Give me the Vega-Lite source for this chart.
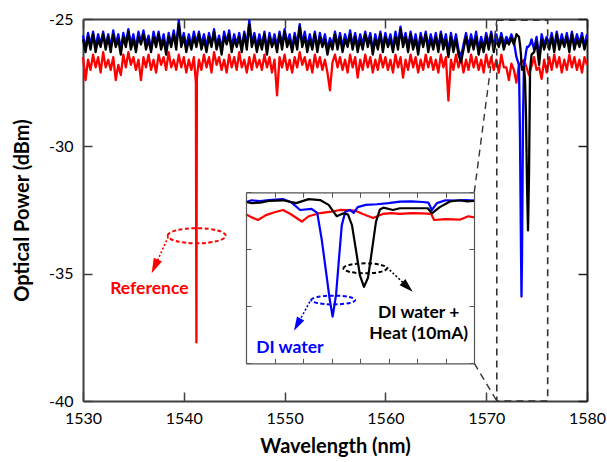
{
"$schema":"https://vega.github.io/schema/vega-lite/v6.json",
"width":504,"height":382,
"autosize":{"type":"none"},
"padding":{"left":83,"top":19,"right":20,"bottom":61},
"background":"white",
"config":{"view":{"stroke":null},"font":"Lato"},
"datasets":{
"main":[
{"w":1530,"r":-26.5,"b":-25.65,"k":-25.8},
{"w":1530.25,"r":-27.4,"b":-26.15,"k":-26.3},
{"w":1530.5,"r":-26.6,"b":-25.55,"k":-25.7},
{"w":1530.75,"r":-27.0,"b":-26.0,"k":-26.2},
{"w":1531,"r":-26.4,"b":-25.5,"k":-25.6},
{"w":1531.25,"r":-26.9,"b":-26.1,"k":-26.3},
{"w":1531.5,"r":-26.5,"b":-25.6,"k":-25.8},
{"w":1531.75,"r":-27.1,"b":-26.0,"k":-26.1},
{"w":1532,"r":-26.3,"b":-25.5,"k":-25.6},
{"w":1532.25,"r":-26.9,"b":-26.05,"k":-26.2},
{"w":1532.5,"r":-26.6,"b":-25.6,"k":-25.7},
{"w":1532.75,"r":-27.0,"b":-26.1,"k":-26.3},
{"w":1533,"r":-26.5,"b":-25.45,"k":-25.6},
{"w":1533.25,"r":-27.4,"b":-26.0,"k":-26.1},
{"w":1533.5,"r":-26.8,"b":-25.6,"k":-25.8},
{"w":1533.75,"r":-27.2,"b":-26.2,"k":-26.4},
{"w":1534,"r":-26.4,"b":-25.55,"k":-25.7},
{"w":1534.25,"r":-26.9,"b":-25.95,"k":-26.1},
{"w":1534.5,"r":-26.3,"b":-25.4,"k":-25.5},
{"w":1534.75,"r":-26.8,"b":-26.0,"k":-26.2},
{"w":1535,"r":-26.5,"b":-25.6,"k":-25.8},
{"w":1535.25,"r":-27.0,"b":-26.15,"k":-26.3},
{"w":1535.5,"r":-26.6,"b":-25.5,"k":-25.7},
{"w":1535.75,"r":-27.4,"b":-25.9,"k":-26.0},
{"w":1536,"r":-26.5,"b":-25.45,"k":-25.6},
{"w":1536.25,"r":-26.9,"b":-26.0,"k":-26.2},
{"w":1536.5,"r":-26.4,"b":-25.65,"k":-25.8},
{"w":1536.75,"r":-27.0,"b":-26.2,"k":-26.3},
{"w":1537,"r":-26.6,"b":-25.5,"k":-25.7},
{"w":1537.25,"r":-27.1,"b":-25.95,"k":-26.1},
{"w":1537.5,"r":-26.4,"b":-25.5,"k":-25.6},
{"w":1537.75,"r":-26.8,"b":-26.05,"k":-26.2},
{"w":1538,"r":-26.5,"b":-25.6,"k":-25.8},
{"w":1538.25,"r":-27.0,"b":-26.2,"k":-26.4},
{"w":1538.5,"r":-26.3,"b":-25.55,"k":-25.7},
{"w":1538.75,"r":-26.9,"b":-26.0,"k":-26.1},
{"w":1539,"r":-26.6,"b":-25.45,"k":-25.6},
{"w":1539.25,"r":-27.0,"b":-26.05,"k":-26.2},
{"w":1539.5,"r":-26.4,"b":-25.05,"k":-25.2},
{"w":1539.75,"r":-26.9,"b":-25.95,"k":-26.1},
{"w":1540,"r":-26.5,"b":-25.55,"k":-25.7},
{"w":1540.25,"r":-27.1,"b":-26.1,"k":-26.3},
{"w":1540.5,"r":-26.6,"b":-25.6,"k":-25.8},
{"w":1540.75,"r":-27.0,"b":-26.05,"k":-26.2},
{"w":1541,"r":-26.5,"b":-25.5,"k":-25.7},
{"w":1541.2,"r":-27.5},
{"w":1541.25,"r":-37.7,"b":-25.95,"k":-26.1},
{"w":1541.3,"r":-27.3},
{"w":1541.5,"r":-26.6,"b":-25.5,"k":-25.6},
{"w":1541.75,"r":-27.0,"b":-26.0,"k":-26.2},
{"w":1542,"r":-26.4,"b":-25.6,"k":-25.8},
{"w":1542.25,"r":-26.9,"b":-26.1,"k":-26.3},
{"w":1542.5,"r":-26.5,"b":-25.55,"k":-25.7},
{"w":1542.75,"r":-27.1,"b":-26.0,"k":-26.1},
{"w":1543,"r":-26.3,"b":-25.4,"k":-25.5},
{"w":1543.25,"r":-26.8,"b":-26.05,"k":-26.2},
{"w":1543.5,"r":-26.5,"b":-25.65,"k":-25.8},
{"w":1543.75,"r":-27.0,"b":-26.2,"k":-26.4},
{"w":1544,"r":-26.6,"b":-25.5,"k":-25.7},
{"w":1544.25,"r":-27.1,"b":-25.9,"k":-26.0},
{"w":1544.5,"r":-26.4,"b":-25.45,"k":-25.6},
{"w":1544.75,"r":-26.9,"b":-26.1,"k":-26.3},
{"w":1545,"r":-26.5,"b":-25.6,"k":-25.8},
{"w":1545.25,"r":-27.0,"b":-26.0,"k":-26.1},
{"w":1545.5,"r":-26.3,"b":-25.55,"k":-25.7},
{"w":1545.75,"r":-26.9,"b":-26.15,"k":-26.3},
{"w":1546,"r":-26.6,"b":-25.5,"k":-25.6},
{"w":1546.25,"r":-27.1,"b":-26.0,"k":-26.2},
{"w":1546.5,"r":-26.5,"b":-25.05,"k":-25.2},
{"w":1546.75,"r":-27.0,"b":-25.95,"k":-26.1},
{"w":1547,"r":-26.4,"b":-25.55,"k":-25.7},
{"w":1547.25,"r":-26.9,"b":-26.1,"k":-26.3},
{"w":1547.5,"r":-26.6,"b":-25.6,"k":-25.8},
{"w":1547.75,"r":-27.0,"b":-26.05,"k":-26.2},
{"w":1548,"r":-26.4,"b":-25.5,"k":-25.6},
{"w":1548.25,"r":-26.9,"b":-26.2,"k":-26.4},
{"w":1548.5,"r":-26.5,"b":-25.55,"k":-25.7},
{"w":1548.75,"r":-27.1,"b":-26.0,"k":-26.1},
{"w":1549,"r":-26.6,"b":-25.6,"k":-25.8},
{"w":1549.25,"r":-28.0,"b":-26.1,"k":-26.3},
{"w":1549.5,"r":-26.5,"b":-25.5,"k":-25.6},
{"w":1549.75,"r":-26.9,"b":-26.0,"k":-26.2},
{"w":1550,"r":-26.4,"b":-25.4,"k":-25.5},
{"w":1550.25,"r":-27.0,"b":-25.95,"k":-26.1},
{"w":1550.5,"r":-26.6,"b":-25.6,"k":-25.8},
{"w":1550.75,"r":-27.1,"b":-26.15,"k":-26.3},
{"w":1551,"r":-26.5,"b":-25.55,"k":-25.7},
{"w":1551.25,"r":-26.9,"b":-26.0,"k":-26.2},
{"w":1551.5,"r":-26.3,"b":-25.2,"k":-25.3},
{"w":1551.75,"r":-26.8,"b":-25.95,"k":-26.1},
{"w":1552,"r":-26.5,"b":-25.5,"k":-25.7},
{"w":1552.25,"r":-27.0,"b":-26.1,"k":-26.3},
{"w":1552.5,"r":-26.6,"b":-25.6,"k":-25.8},
{"w":1552.75,"r":-27.1,"b":-26.05,"k":-26.2},
{"w":1553,"r":-26.4,"b":-25.5,"k":-25.6},
{"w":1553.25,"r":-26.9,"b":-26.15,"k":-26.3},
{"w":1553.5,"r":-26.5,"b":-25.55,"k":-25.7},
{"w":1553.75,"r":-27.0,"b":-26.0,"k":-26.1},
{"w":1554,"r":-26.6,"b":-25.6,"k":-25.8},
{"w":1554.25,"r":-27.1,"b":-26.2,"k":-26.4},
{"w":1554.5,"r":-27.8,"b":-25.75,"k":-25.9},
{"w":1554.75,"r":-26.7,"b":-26.0,"k":-26.2},
{"w":1555,"r":-26.4,"b":-25.5,"k":-25.6},
{"w":1555.25,"r":-26.9,"b":-26.05,"k":-26.2},
{"w":1555.5,"r":-26.5,"b":-25.55,"k":-25.7},
{"w":1555.75,"r":-27.0,"b":-26.1,"k":-26.3},
{"w":1556,"r":-26.6,"b":-25.6,"k":-25.8},
{"w":1556.25,"r":-27.1,"b":-26.0,"k":-26.1},
{"w":1556.5,"r":-26.4,"b":-25.45,"k":-25.6},
{"w":1556.75,"r":-26.9,"b":-26.05,"k":-26.2},
{"w":1557,"r":-26.5,"b":-25.55,"k":-25.7},
{"w":1557.25,"r":-27.3,"b":-26.1,"k":-26.3},
{"w":1557.5,"r":-26.6,"b":-25.6,"k":-25.8},
{"w":1557.75,"r":-27.0,"b":-26.0,"k":-26.2},
{"w":1558,"r":-26.4,"b":-25.5,"k":-25.6},
{"w":1558.25,"r":-26.9,"b":-25.95,"k":-26.1},
{"w":1558.5,"r":-26.5,"b":-25.55,"k":-25.7},
{"w":1558.75,"r":-27.1,"b":-26.2,"k":-26.4},
{"w":1559,"r":-26.6,"b":-25.6,"k":-25.8},
{"w":1559.25,"r":-27.0,"b":-26.05,"k":-26.2},
{"w":1559.5,"r":-26.4,"b":-25.5,"k":-25.6},
{"w":1559.75,"r":-26.9,"b":-26.1,"k":-26.3},
{"w":1560,"r":-26.5,"b":-25.55,"k":-25.7},
{"w":1560.25,"r":-27.0,"b":-26.0,"k":-26.1},
{"w":1560.5,"r":-26.6,"b":-25.6,"k":-25.8},
{"w":1560.75,"r":-27.1,"b":-26.15,"k":-26.3},
{"w":1561,"r":-26.4,"b":-25.5,"k":-25.7},
{"w":1561.25,"r":-26.9,"b":-26.0,"k":-26.2},
{"w":1561.5,"r":-26.5,"b":-25.3,"k":-25.4},
{"w":1561.75,"r":-27.3,"b":-25.95,"k":-26.1},
{"w":1562,"r":-26.6,"b":-25.55,"k":-25.7},
{"w":1562.25,"r":-27.0,"b":-26.1,"k":-26.3},
{"w":1562.5,"r":-26.4,"b":-25.5,"k":-25.6},
{"w":1562.75,"r":-26.9,"b":-26.05,"k":-26.2},
{"w":1563,"r":-26.5,"b":-25.6,"k":-25.8},
{"w":1563.25,"r":-27.1,"b":-26.2,"k":-26.4},
{"w":1563.5,"r":-26.6,"b":-25.55,"k":-25.7},
{"w":1563.75,"r":-27.0,"b":-26.0,"k":-26.1},
{"w":1564,"r":-26.4,"b":-25.5,"k":-25.6},
{"w":1564.25,"r":-26.9,"b":-26.1,"k":-26.3},
{"w":1564.5,"r":-26.5,"b":-25.6,"k":-25.8},
{"w":1564.75,"r":-27.0,"b":-26.05,"k":-26.2},
{"w":1565,"r":-26.6,"b":-25.55,"k":-25.7},
{"w":1565.25,"r":-27.1,"b":-26.15,"k":-26.3},
{"w":1565.5,"r":-26.4,"b":-25.5,"k":-25.6},
{"w":1565.75,"r":-26.9,"b":-26.0,"k":-26.2},
{"w":1566,"r":-26.5,"b":-25.6,"k":-25.8},
{"w":1566.25,"r":-28.2,"b":-26.3,"k":-26.5},
{"w":1566.5,"r":-26.6,"b":-25.55,"k":-25.7},
{"w":1566.75,"r":-27.0,"b":-26.1,"k":-26.3},
{"w":1567,"r":-26.4,"b":-25.6,"k":-25.8},
{"w":1567.25,"r":-26.9,"b":-26.2,"k":-26.4},
{"w":1567.5,"r":-26.5,"b":-26.5,"k":-26.7},
{"w":1567.75,"r":-27.1,"b":-26.0,"k":-26.2},
{"w":1568,"r":-26.6,"b":-25.55,"k":-25.7},
{"w":1568.25,"r":-27.0,"b":-26.1,"k":-26.3},
{"w":1568.5,"r":-26.4,"b":-25.6,"k":-25.8},
{"w":1568.75,"r":-26.9,"b":-26.05,"k":-26.2},
{"w":1569,"r":-26.5,"b":-25.5,"k":-25.7},
{"w":1569.25,"r":-27.0,"b":-26.2,"k":-26.4},
{"w":1569.5,"r":-26.6,"b":-25.7,"k":-25.9},
{"w":1569.75,"r":-27.1,"b":-26.1,"k":-26.3},
{"w":1570,"r":-26.4,"b":-25.55,"k":-25.7},
{"w":1570.25,"r":-26.9,"b":-26.0,"k":-26.2},
{"w":1570.5,"r":-26.5,"b":-25.5,"k":-25.6},
{"w":1570.75,"r":-27.0,"b":-26.1,"k":-26.3},
{"w":1571,"r":-26.6,"b":-25.6,"k":-25.8},
{"w":1571.25,"r":-27.1,"b":-26.0,"k":-26.1},
{"w":1571.5,"r":-26.4,"b":-25.55,"k":-25.7},
{"w":1571.75,"r":-26.9,"b":-26.0,"k":-26.2},
{"w":1572,"r":-26.9,"b":-25.7,"k":-25.85},
{"w":1572.25,"r":-27.4,"b":-25.9,"k":-26.0},
{"w":1572.5,"r":-26.75,"b":-25.6,"k":-25.75},
{"w":1572.75,"r":-27.0,"b":-25.9,"k":-26.0},
{"w":1573,"r":-27.5,"b":-26.5,"k":-25.6},
{"w":1573.25,"r":-26.8,"b":-26.8,"k":-25.7},
{"w":1573.35,"b":-29.5,"k":-26.0},
{"w":1573.45,"b":-34.0,"k":-26.4},
{"w":1573.5,"r":-26.7,"b":-35.9,"k":-26.8},
{"w":1573.55,"b":-34.5,"k":-27.0},
{"w":1573.65,"b":-29.0,"k":-26.9},
{"w":1573.75,"r":-26.6,"b":-26.7,"k":-26.9},
{"w":1573.85,"b":-26.6,"k":-27.4},
{"w":1573.95,"b":-26.3,"k":-28.8},
{"w":1574.05,"b":-26.1,"k":-31.5},
{"w":1574.15,"b":-26.1,"k":-33.3},
{"w":1574.25,"r":-27.2,"b":-26.05,"k":-31.0},
{"w":1574.35,"b":-26.0,"k":-27.0},
{"w":1574.5,"r":-26.85,"b":-25.8,"k":-26.4},
{"w":1574.75,"r":-26.5,"b":-26.2,"k":-26.3},
{"w":1575,"r":-27.0,"b":-25.7,"k":-25.9},
{"w":1575.25,"r":-26.9,"b":-26.5,"k":-26.8},
{"w":1575.5,"r":-27.35,"b":-25.6,"k":-25.8},
{"w":1575.75,"r":-26.6,"b":-26.0,"k":-26.2},
{"w":1576,"r":-27.1,"b":-25.7,"k":-25.8},
{"w":1576.25,"r":-26.5,"b":-26.0,"k":-26.2},
{"w":1576.5,"r":-27.0,"b":-25.55,"k":-25.7},
{"w":1576.75,"r":-26.4,"b":-26.1,"k":-26.3},
{"w":1577,"r":-26.9,"b":-25.5,"k":-25.6},
{"w":1577.25,"r":-26.5,"b":-26.05,"k":-26.2},
{"w":1577.5,"r":-27.1,"b":-25.6,"k":-25.8},
{"w":1577.75,"r":-26.6,"b":-26.0,"k":-26.1},
{"w":1578,"r":-27.0,"b":-25.55,"k":-25.7},
{"w":1578.25,"r":-26.4,"b":-26.1,"k":-26.3},
{"w":1578.5,"r":-26.9,"b":-25.5,"k":-25.6},
{"w":1578.75,"r":-26.5,"b":-26.0,"k":-26.2},
{"w":1579,"r":-27.0,"b":-25.6,"k":-25.8},
{"w":1579.25,"r":-26.6,"b":-25.95,"k":-26.1},
{"w":1579.5,"r":-27.1,"b":-25.55,"k":-25.7},
{"w":1579.75,"r":-26.5,"b":-26.05,"k":-26.2},
{"w":1580,"r":-26.8,"b":-25.6,"k":-25.8}
],
"inset":[
{"s":"r","w":1572.0,"p":-26.93},{"s":"r","w":1572.1,"p":-27.2},{"s":"r","w":1572.21,"p":-27.43},{"s":"r","w":1572.35,"p":-27.0},{"s":"r","w":1572.5,"p":-26.75},{"s":"r","w":1572.65,"p":-26.55},{"s":"r","w":1572.78,"p":-26.9},{"s":"r","w":1572.9,"p":-27.3},{"s":"r","w":1572.98,"p":-27.58},{"s":"r","w":1573.1,"p":-27.1},{"s":"r","w":1573.3,"p":-26.82},{"s":"r","w":1573.5,"p":-26.7},{"s":"r","w":1573.65,"p":-26.55},{"s":"r","w":1573.91,"p":-26.6},{"s":"r","w":1574.05,"p":-26.9},{"s":"r","w":1574.23,"p":-27.25},{"s":"r","w":1574.4,"p":-26.9},{"s":"r","w":1574.55,"p":-26.82},{"s":"r","w":1574.7,"p":-26.9},{"s":"r","w":1574.9,"p":-26.82},{"s":"r","w":1575.1,"p":-26.85},{"s":"r","w":1575.25,"p":-26.9},{"s":"r","w":1575.3,"p":-27.43},{"s":"r","w":1575.5,"p":-27.35},{"s":"r","w":1575.75,"p":-27.4},{"s":"r","w":1575.9,"p":-27.1},{"s":"r","w":1576.0,"p":-27.2},
{"s":"b","w":1572.0,"p":-25.85},{"s":"b","w":1572.1,"p":-25.7},{"s":"b","w":1572.25,"p":-25.78},{"s":"b","w":1572.4,"p":-25.68},{"s":"b","w":1572.65,"p":-25.6},{"s":"b","w":1572.8,"p":-25.9},{"s":"b","w":1572.95,"p":-26.55},{"s":"b","w":1573.15,"p":-26.45},{"s":"b","w":1573.25,"p":-26.8},{"s":"b","w":1573.33,"p":-29.2},{"s":"b","w":1573.4,"p":-31.8},{"s":"b","w":1573.47,"p":-34.45},{"s":"b","w":1573.52,"p":-35.9},{"s":"b","w":1573.58,"p":-34.0},{"s":"b","w":1573.63,"p":-30.9},{"s":"b","w":1573.68,"p":-27.9},{"s":"b","w":1573.74,"p":-26.73},{"s":"b","w":1573.82,"p":-26.55},{"s":"b","w":1573.89,"p":-26.8},{"s":"b","w":1573.96,"p":-26.3},{"s":"b","w":1574.1,"p":-26.1},{"s":"b","w":1574.3,"p":-26.05},{"s":"b","w":1574.5,"p":-25.95},{"s":"b","w":1574.7,"p":-25.82},{"s":"b","w":1574.9,"p":-25.8},{"s":"b","w":1575.1,"p":-25.85},{"s":"b","w":1575.2,"p":-25.9},{"s":"b","w":1575.26,"p":-26.55},{"s":"b","w":1575.35,"p":-25.95},{"s":"b","w":1575.5,"p":-25.7},{"s":"b","w":1575.7,"p":-25.72},{"s":"b","w":1575.85,"p":-25.68},{"s":"b","w":1576.0,"p":-25.72},
{"s":"k","w":1572.0,"p":-25.85},{"s":"k","w":1572.1,"p":-25.95},{"s":"k","w":1572.25,"p":-25.9},{"s":"k","w":1572.4,"p":-25.75},{"s":"k","w":1572.65,"p":-25.7},{"s":"k","w":1572.88,"p":-25.95},{"s":"k","w":1573.1,"p":-25.6},{"s":"k","w":1573.3,"p":-25.68},{"s":"k","w":1573.45,"p":-26.1},{"s":"k","w":1573.59,"p":-27.1},{"s":"k","w":1573.7,"p":-26.85},{"s":"k","w":1573.79,"p":-26.95},{"s":"k","w":1573.86,"p":-27.9},{"s":"k","w":1573.93,"p":-30.1},{"s":"k","w":1574.0,"p":-32.3},{"s":"k","w":1574.07,"p":-33.3},{"s":"k","w":1574.14,"p":-32.5},{"s":"k","w":1574.21,"p":-30.1},{"s":"k","w":1574.28,"p":-27.6},{"s":"k","w":1574.35,"p":-26.5},{"s":"k","w":1574.41,"p":-26.35},{"s":"k","w":1574.58,"p":-26.55},{"s":"k","w":1574.7,"p":-26.4},{"s":"k","w":1574.96,"p":-26.4},{"s":"k","w":1575.19,"p":-26.4},{"s":"k","w":1575.26,"p":-26.85},{"s":"k","w":1575.4,"p":-26.3},{"s":"k","w":1575.58,"p":-25.8},{"s":"k","w":1575.75,"p":-25.7},{"s":"k","w":1575.88,"p":-25.8},{"s":"k","w":1576.0,"p":-25.75}
]
},
"layer":[
{"data":{"name":"main"},
 "transform":[{"fold":["r","b","k"],"as":["s","p"]},{"filter":"datum.s=='r' && isValid(datum.p)"}],
 "mark":{"type":"line","color":"#ff0000","strokeWidth":2.3,"strokeJoin":"round"},
 "encoding":{
  "x":{"field":"w","type":"quantitative","scale":{"domain":[1530,1580],"nice":false,"zero":false},
   "axis":{"orient":"bottom","values":[1530,1540,1550,1560,1570,1580],"labelExpr":"'' + datum.value","tickSize":-9,"tickWidth":1.5,"tickColor":"#404040","domainColor":"#404040","domainWidth":2,"labelFont":"Lato","labelFontSize":16,"labelColor":"#000","labelPadding":18,"labelFlush":false,"labelOverlap":false,"grid":false,"title":"Wavelength (nm)","titleFont":"Lato","titleFontSize":20,"titleFontWeight":"bold","titleColor":"#000","titlePadding":10}},
  "y":{"field":"p","type":"quantitative","scale":{"domain":[-40,-25],"nice":false,"zero":false},
   "axis":{"orient":"left","values":[-40,-35,-30,-25],"labelExpr":"'' + datum.value","tickSize":-9,"tickWidth":1.5,"tickColor":"#404040","domainColor":"#404040","domainWidth":2,"labelFont":"Lato","labelFontSize":16,"labelColor":"#000","labelPadding":19,"labelFlush":false,"labelOverlap":false,"grid":false,"title":"Optical Power (dBm)","titleFont":"Lato","titleFontSize":20,"titleFontWeight":"bold","titleColor":"#000","titlePadding":16}}
 }},
{"data":{"name":"main"},
 "transform":[{"fold":["r","b","k"],"as":["s","p"]},{"filter":"datum.s=='b' && isValid(datum.p)"}],
 "mark":{"type":"line","color":"#0000ff","strokeWidth":2.3,"strokeJoin":"round"},
 "encoding":{
  "x":{"field":"w","type":"quantitative","scale":{"domain":[1530,1580],"nice":false,"zero":false},
   "axis":{"orient":"top","values":[1530,1540,1550,1560,1570,1580],"tickSize":-9,"tickWidth":1.5,"tickColor":"#404040","domainColor":"#404040","domainWidth":2,"labels":false,"grid":false,"title":null}},
  "y":{"field":"p","type":"quantitative","scale":{"domain":[-40,-25],"nice":false,"zero":false},
   "axis":{"orient":"right","values":[-40,-35,-30,-25],"tickSize":-9,"tickWidth":1.5,"tickColor":"#222","domainColor":"#222","domainWidth":2,"labels":false,"grid":false,"title":null}}
 }},
{"data":{"name":"main"},
 "transform":[{"fold":["r","b","k"],"as":["s","p"]},{"filter":"datum.s=='k' && isValid(datum.p)"}],
 "mark":{"type":"line","color":"#000000","strokeWidth":2.3,"strokeJoin":"round"},
 "encoding":{
  "x":{"field":"w","type":"quantitative","scale":{"domain":[1530,1580],"nice":false,"zero":false},"axis":null},
  "y":{"field":"p","type":"quantitative","scale":{"domain":[-40,-25],"nice":false,"zero":false},"axis":null}
 }},
{"data":{"values":[{"w":1571.05,"w2":1576.1,"p":-25.05,"p2":-40}]},
 "mark":{"type":"rect","fillOpacity":0,"stroke":"#333333","strokeDash":[7,5],"strokeWidth":1.6},
 "encoding":{
  "x":{"field":"w","type":"quantitative","scale":{"domain":[1530,1580],"nice":false,"zero":false},"axis":null},
  "x2":{"field":"w2"},
  "y":{"field":"p","type":"quantitative","scale":{"domain":[-40,-25],"nice":false,"zero":false},"axis":null},
  "y2":{"field":"p2"}
 }},
{"data":{"values":[{"w":1568.82,"p":-31.8,"w2":1571.05,"p2":-25.05},{"w":1568.82,"p":-38.52,"w2":1571.05,"p2":-40}]},
 "mark":{"type":"rule","color":"#333333","strokeDash":[7,5],"strokeWidth":1.4},
 "encoding":{
  "x":{"field":"w","type":"quantitative","scale":{"domain":[1530,1580],"nice":false,"zero":false},"axis":null},
  "x2":{"field":"w2"},
  "y":{"field":"p","type":"quantitative","scale":{"domain":[-40,-25],"nice":false,"zero":false},"axis":null},
  "y2":{"field":"p2"}
 }},
{"data":{"values":[{"w":1541.28,"p":-33.51}]},
 "mark":{"type":"point","shape":"M-1,0A1,0.26,0,1,1,1,0A1,0.26,0,1,1,-1,0Z","size":3364,"filled":false,"stroke":"#ff0000","strokeWidth":2,"strokeDash":[4,2.5],"opacity":1},
 "encoding":{
  "x":{"field":"w","type":"quantitative","scale":{"domain":[1530,1580],"nice":false,"zero":false},"axis":null},
  "y":{"field":"p","type":"quantitative","scale":{"domain":[-40,-25],"nice":false,"zero":false},"axis":null}
 }},
{"data":{"values":[{"w":1538.46,"p":-33.55,"w2":1537.12,"p2":-34.72}]},
 "mark":{"type":"rule","color":"#ff0000","strokeDash":[2,2],"strokeWidth":1.6},
 "encoding":{
  "x":{"field":"w","type":"quantitative","scale":{"domain":[1530,1580],"nice":false,"zero":false},"axis":null},
  "x2":{"field":"w2"},
  "y":{"field":"p","type":"quantitative","scale":{"domain":[-40,-25],"nice":false,"zero":false},"axis":null},
  "y2":{"field":"p2"}
 }},
{"data":{"values":[{"w":1537.12,"p":-34.72}]},
 "mark":{"type":"point","shape":"M0,-1L0.6,1L-0.6,1Z","size":225,"filled":true,"color":"#ff0000","opacity":1,"angle":204.4},
 "encoding":{
  "x":{"field":"w","type":"quantitative","scale":{"domain":[1530,1580],"nice":false,"zero":false},"axis":null},
  "y":{"field":"p","type":"quantitative","scale":{"domain":[-40,-25],"nice":false,"zero":false},"axis":null}
 }},
{"data":{"values":[{"w":1536.58,"p":-35.6,"t":"Reference"}]},
 "mark":{"type":"text","font":"Lato","fontSize":17.5,"fontWeight":"bold","color":"#ff0000","align":"center","baseline":"middle"},
 "encoding":{
  "x":{"field":"w","type":"quantitative","scale":{"domain":[1530,1580],"nice":false,"zero":false},"axis":null},
  "y":{"field":"p","type":"quantitative","scale":{"domain":[-40,-25],"nice":false,"zero":false},"axis":null},
  "text":{"field":"t"}
 }},
{"data":{"name":"inset"},
 "transform":[{"filter":"datum.s=='r'"}],
 "mark":{"type":"line","color":"#ff0000","strokeWidth":2.2,"strokeJoin":"round"},
 "encoding":{
  "x":{"field":"w","type":"quantitative","scale":{"domain":[1572,1576],"range":[163,391],"nice":false,"zero":false},
   "axis":{"orient":"bottom","offset":-37.7,"values":[1572,1572.5,1573,1573.5,1574,1574.5,1575,1575.5,1576],"tickSize":-5,"tickWidth":1,"tickColor":"#555555","domainColor":"#555555","domainWidth":1.2,"labels":false,"grid":false,"title":null,"zindex":1}},
  "y":{"field":"p","type":"quantitative","scale":{"domain":[-40,-25],"range":[344.3,173.3],"nice":false,"zero":false},
   "axis":{"orient":"left","offset":-163,"values":[-40,-35,-30,-25],"tickSize":-5,"tickWidth":1,"tickColor":"#555555","domainColor":"#555555","domainWidth":1.2,"labels":false,"grid":false,"title":null,"zindex":1}}
 }},
{"data":{"name":"inset"},
 "transform":[{"filter":"datum.s=='b'"}],
 "mark":{"type":"line","color":"#0000ff","strokeWidth":2.2,"strokeJoin":"round"},
 "encoding":{
  "x":{"field":"w","type":"quantitative","scale":{"domain":[1572,1576],"range":[163,391],"nice":false,"zero":false},
   "axis":{"orient":"top","offset":-173.3,"values":[1572,1572.5,1573,1573.5,1574,1574.5,1575,1575.5,1576],"tickSize":-5,"tickWidth":1,"tickColor":"#555555","domainColor":"#555555","domainWidth":1.2,"labels":false,"grid":false,"title":null,"zindex":1}},
  "y":{"field":"p","type":"quantitative","scale":{"domain":[-40,-25],"range":[344.3,173.3],"nice":false,"zero":false},
   "axis":{"orient":"right","offset":-113,"values":[-40,-35,-30,-25],"tickSize":-5,"tickWidth":1,"tickColor":"#555555","domainColor":"#555555","domainWidth":1.2,"labels":false,"grid":false,"title":null,"zindex":1}}
 }},
{"data":{"name":"inset"},
 "transform":[{"filter":"datum.s=='k'"}],
 "mark":{"type":"line","color":"#000000","strokeWidth":2.2,"strokeJoin":"round"},
 "encoding":{
  "x":{"field":"w","type":"quantitative","scale":{"domain":[1572,1576],"range":[163,391],"nice":false,"zero":false},"axis":null},
  "y":{"field":"p","type":"quantitative","scale":{"domain":[-40,-25],"range":[344.3,173.3],"nice":false,"zero":false},"axis":null}
 }},
{"data":{"values":[{"w":1573.53,"p":-34.45}]},
 "mark":{"type":"point","shape":"M-1,0A1,0.2,0,1,1,1,0A1,0.2,0,1,1,-1,0Z","size":1936,"filled":false,"stroke":"#0000ff","strokeWidth":2,"strokeDash":[4,2.5],"opacity":1},
 "encoding":{
  "x":{"field":"w","type":"quantitative","scale":{"domain":[1572,1576],"range":[163,391],"nice":false,"zero":false},"axis":null},
  "y":{"field":"p","type":"quantitative","scale":{"domain":[-40,-25],"range":[344.3,173.3],"nice":false,"zero":false},"axis":null}
 }},
{"data":{"values":[{"w":1573.12,"p":-34.6,"w2":1572.9,"p2":-36.61}]},
 "mark":{"type":"rule","color":"#0000ff","strokeDash":[2,2],"strokeWidth":1.6},
 "encoding":{
  "x":{"field":"w","type":"quantitative","scale":{"domain":[1572,1576],"range":[163,391],"nice":false,"zero":false},"axis":null},
  "x2":{"field":"w2"},
  "y":{"field":"p","type":"quantitative","scale":{"domain":[-40,-25],"range":[344.3,173.3],"nice":false,"zero":false},"axis":null},
  "y2":{"field":"p2"}
 }},
{"data":{"values":[{"w":1572.9,"p":-36.61}]},
 "mark":{"type":"point","shape":"M0,-1L0.6,1L-0.6,1Z","size":190,"filled":true,"color":"#0000ff","opacity":1,"angle":208.7},
 "encoding":{
  "x":{"field":"w","type":"quantitative","scale":{"domain":[1572,1576],"range":[163,391],"nice":false,"zero":false},"axis":null},
  "y":{"field":"p","type":"quantitative","scale":{"domain":[-40,-25],"range":[344.3,173.3],"nice":false,"zero":false},"axis":null}
 }},
{"data":{"values":[{"w":1572.77,"p":-38.68,"t":"DI water"}]},
 "mark":{"type":"text","font":"Lato","fontSize":17.5,"fontWeight":"bold","color":"#0000ff","align":"center","baseline":"middle"},
 "encoding":{
  "x":{"field":"w","type":"quantitative","scale":{"domain":[1572,1576],"range":[163,391],"nice":false,"zero":false},"axis":null},
  "y":{"field":"p","type":"quantitative","scale":{"domain":[-40,-25],"range":[344.3,173.3],"nice":false,"zero":false},"axis":null},
  "text":{"field":"t"}
 }},
{"data":{"values":[{"w":1574.09,"p":-31.67}]},
 "mark":{"type":"point","shape":"M-1,0A1,0.23,0,1,1,1,0A1,0.23,0,1,1,-1,0Z","size":1892,"filled":false,"stroke":"#000000","strokeWidth":2,"strokeDash":[4,2.5],"opacity":1},
 "encoding":{
  "x":{"field":"w","type":"quantitative","scale":{"domain":[1572,1576],"range":[163,391],"nice":false,"zero":false},"axis":null},
  "y":{"field":"p","type":"quantitative","scale":{"domain":[-40,-25],"range":[344.3,173.3],"nice":false,"zero":false},"axis":null}
 }},
{"data":{"values":[{"w":1574.47,"p":-31.58,"w2":1574.835,"p2":-33.3}]},
 "mark":{"type":"rule","color":"#000000","strokeDash":[2,2],"strokeWidth":1.6},
 "encoding":{
  "x":{"field":"w","type":"quantitative","scale":{"domain":[1572,1576],"range":[163,391],"nice":false,"zero":false},"axis":null},
  "x2":{"field":"w2"},
  "y":{"field":"p","type":"quantitative","scale":{"domain":[-40,-25],"range":[344.3,173.3],"nice":false,"zero":false},"axis":null},
  "y2":{"field":"p2"}
 }},
{"data":{"values":[{"w":1574.835,"p":-33.3}]},
 "mark":{"type":"point","shape":"M0,-1L0.6,1L-0.6,1Z","size":196,"filled":true,"color":"#000000","opacity":1,"angle":133.3},
 "encoding":{
  "x":{"field":"w","type":"quantitative","scale":{"domain":[1572,1576],"range":[163,391],"nice":false,"zero":false},"axis":null},
  "y":{"field":"p","type":"quantitative","scale":{"domain":[-40,-25],"range":[344.3,173.3],"nice":false,"zero":false},"axis":null}
 }},
{"data":{"values":[{"w":1575.03,"p":-35.56,"t":"DI water +"},{"w":1575.03,"p":-37.43,"t":"Heat (10mA)"}]},
 "mark":{"type":"text","font":"Lato","fontSize":17.5,"fontWeight":"bold","color":"#000000","align":"center","baseline":"middle"},
 "encoding":{
  "x":{"field":"w","type":"quantitative","scale":{"domain":[1572,1576],"range":[163,391],"nice":false,"zero":false},"axis":null},
  "y":{"field":"p","type":"quantitative","scale":{"domain":[-40,-25],"range":[344.3,173.3],"nice":false,"zero":false},"axis":null},
  "text":{"field":"t"}
 }}
],
"resolve":{"scale":{"x":"independent","y":"independent"}}
}
